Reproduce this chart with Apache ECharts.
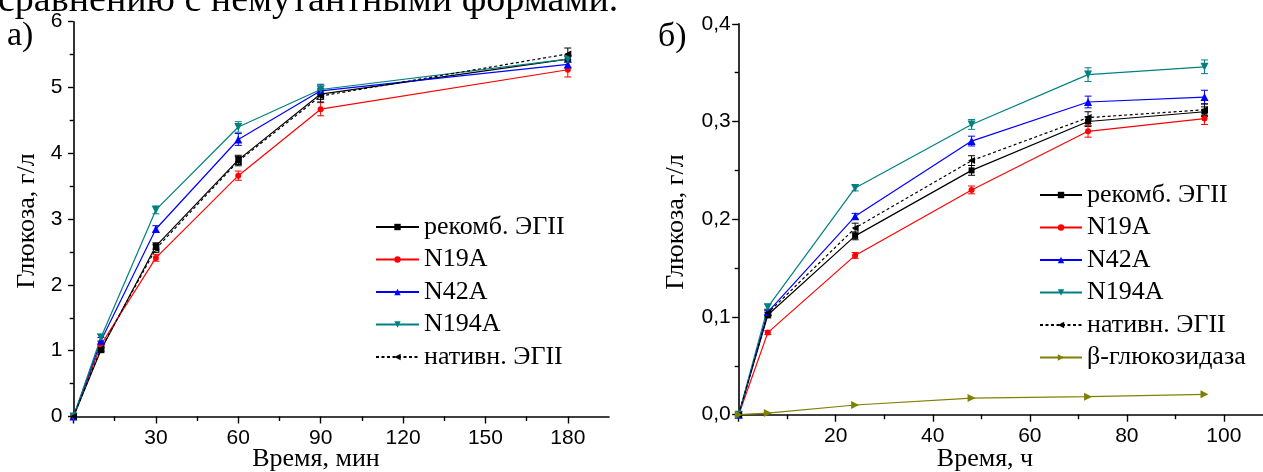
<!DOCTYPE html>
<html>
<head>
<meta charset="utf-8">
<script src="https://cdn.jsdelivr.net/npm/echarts@6/dist/echarts.min.js"></script>
<style>
html,body{margin:0;padding:0;background:#fff;}
#c{width:1263px;height:472px;}
</style>
</head>
<body>
<div id="c"></div>
<script>
// ---------- DATA ----------
// Panel a) time, min
const timeMin = [0, 10, 30, 60, 90, 180];
const recombA = [0, 1.01, 2.59, 3.90, 4.90, 5.43];
const n19aA   = [0, 1.09, 2.41, 3.66, 4.67, 5.27];
const n42aA   = [0, 1.15, 2.85, 4.21, 4.95, 5.35];
const n194aA  = [0, 1.20, 3.14, 4.40, 4.97, 5.43];
const nativeA = [0, 1.03, 2.55, 3.88, 4.87, 5.51];
const recombErrA = [0, 0.04, 0.05, 0.07, 0.08, 0.05];
const n19aErrA   = [0, 0.05, 0.05, 0.07, 0.10, 0.11];
const n42aErrA   = [0, 0.05, 0.05, 0.09, 0.09, 0.05];
const n194aErrA  = [0, 0.05, 0.06, 0.08, 0.08, 0.05];
const nativeErrA = [0, 0.04, 0.06, 0.07, 0.09, 0.09];

// Panel б) time, h
const timeH = [0, 6, 24, 48, 72, 96];
const recombB = [0, 0.102, 0.183, 0.250, 0.300, 0.310];
const n19aB   = [0, 0.084, 0.163, 0.230, 0.290, 0.303];
const n42aB   = [0, 0.105, 0.203, 0.280, 0.320, 0.325];
const n194aB  = [0, 0.110, 0.232, 0.297, 0.348, 0.356];
const nativeB = [0, 0.104, 0.191, 0.260, 0.304, 0.312];
const betaB   = [0, 0.0017, 0.0099, 0.017, 0.0184, 0.0208];
const recombErrB = [0, 0.003, 0.004, 0.005, 0.005, 0.005];
const n19aErrB   = [0, 0.002, 0.003, 0.004, 0.006, 0.006];
const n42aErrB   = [0, 0.003, 0.003, 0.005, 0.006, 0.007];
const n194aErrB  = [0, 0.003, 0.003, 0.005, 0.007, 0.007];
const nativeErrB = [0, 0.003, 0.005, 0.005, 0.006, 0.006];

// Tick labels
const xLabelsA = [30, 60, 90, 120, 150, 180];
const xMajorA  = [0, 30, 60, 90, 120, 150, 180];
const xMinorA  = [15, 45, 75, 105, 135, 165];
const xLabelsB = [20, 40, 60, 80, 100];
const xMajorB  = [0, 20, 40, 60, 80, 100];
const xMinorB  = [10, 30, 50, 70, 90];

const names = ['рекомб. ЭГII', 'N19A', 'N42A', 'N194A', 'нативн. ЭГII', 'β-глюкозидаза'];
const colors = ['#000000', '#ff0000', '#0000ff', '#008080', '#000000', '#808000'];

// ---------- STYLE ----------
const SERIF = 'Liberation Serif';
const SANS = 'Liberation Sans';
const symbolDefs = [
  {symbol: 'rect', size: 6, rot: 0},
  {symbol: 'circle', size: 6, rot: 0},
  {symbol: 'triangle', size: 8, rot: 0},
  {symbol: 'triangle', size: 8, rot: 180},
  {symbol: 'triangle', size: 7, rot: 90},
  {symbol: 'triangle', size: 8, rot: -90}
];

function lineSeries(idx, xs, ys, gi) {
  const s = symbolDefs[idx];
  return {
    type: 'line', name: names[idx], xAxisIndex: gi * 2, yAxisIndex: gi,
    data: xs.map((t, i) => [t, ys[i]]),
    symbol: s.symbol, symbolSize: s.size, symbolRotate: s.rot,
    showAllSymbol: true,
    color: colors[idx],
    itemStyle: {color: colors[idx]},
    lineStyle: {color: colors[idx], width: 1.2, type: idx === 4 ? [3, 2.5] : 'solid'},
    z: 3, clip: false
  };
}
function errSeries(idx, xs, ys, es, gi) {
  const col = colors[idx];
  return {
    type: 'custom', name: 'err' + idx + '_' + gi, xAxisIndex: gi * 2, yAxisIndex: gi,
    data: xs.map((t, i) => [t, ys[i], es[i]]).filter(d => d[2] > 0),
    z: 2,
    renderItem: function (params, api) {
      const x = api.value(0), y = api.value(1), e = api.value(2);
      const lo = api.coord([x, y - e]), hi = api.coord([x, y + e]);
      const w = 3.5;
      const st = {stroke: col, lineWidth: 1};
      return {type: 'group', children: [
        {type: 'line', shape: {x1: lo[0], y1: lo[1], x2: hi[0], y2: hi[1]}, style: st},
        {type: 'line', shape: {x1: lo[0] - w, y1: lo[1], x2: lo[0] + w, y2: lo[1]}, style: st},
        {type: 'line', shape: {x1: hi[0] - w, y1: hi[1], x2: hi[0] + w, y2: hi[1]}, style: st}
      ]};
    }
  };
}

function xAxisPair(gi, max, labels, majors, minors) {
  const base = {
    gridIndex: gi, type: 'value', min: 0, max: max, position: 'bottom',
    splitLine: {show: false}
  };
  return [
    Object.assign({}, base, {
      axisLine: {show: true, onZero: false, lineStyle: {color: '#000', width: 1.6}},
      axisTick: {show: true, inside: false, length: 7, customValues: majors, lineStyle: {color: '#000', width: 1.4}},
      axisLabel: {show: true, customValues: labels, margin: 11, color: '#000', fontFamily: SANS, fontSize: 21}
    }),
    Object.assign({}, base, {
      axisLine: {show: false},
      axisTick: {show: true, inside: false, length: 4.5, customValues: minors, lineStyle: {color: '#000', width: 1.4}},
      axisLabel: {show: false}
    })
  ];
}

const series = [];
const setsA = [recombA, n19aA, n42aA, n194aA, nativeA];
const errsA = [recombErrA, n19aErrA, n42aErrA, n194aErrA, nativeErrA];
const setsB = [recombB, n19aB, n42aB, n194aB, nativeB, betaB];
const errsB = [recombErrB, n19aErrB, n42aErrB, n194aErrB, nativeErrB];
errsA.forEach((e, i) => series.push(errSeries(i, timeMin, setsA[i], e, 0)));
errsB.forEach((e, i) => series.push(errSeries(i, timeH, setsB[i], e, 1)));
setsA.forEach((d, i) => series.push(lineSeries(i, timeMin, d, 0)));
setsB.forEach((d, i) => series.push(lineSeries(i, timeH, d, 1)));
const legendText = {color: '#000', fontFamily: SERIF, fontSize: 26, lineHeight: 26};

function gtext(text, x, y, size, rot, align) {
  return {
    type: 'text', x: x, y: y, rotation: rot || 0, silent: true,
    style: {text: text, font: size + 'px "' + SERIF + '"', fill: '#000',
      align: align || 'center', verticalAlign: 'middle',
      textAlign: align || 'center', textVerticalAlign: 'middle'}
  };
}

const option = {
  animation: false,
  backgroundColor: '#fff',
  grid: [
    {left: 73.5, top: 21.7, width: 535.5, height: 394.8, outerBoundsMode: 'none', containLabel: false},
    {left: 738.7, top: 23.8, width: 524, height: 390.9, outerBoundsMode: 'none', containLabel: false}
  ],
  xAxis: [].concat(
    xAxisPair(0, 195, xLabelsA, xMajorA, xMinorA),
    xAxisPair(1, 108, xLabelsB, xMajorB, xMinorB)
  ),
  yAxis: [
    {gridIndex: 0, type: 'value', min: 0, max: 6, interval: 1,
      axisLine: {show: true, onZero: false, lineStyle: {color: '#000', width: 1.6}},
      axisTick: {show: true, inside: false, length: 5.5, lineStyle: {color: '#000', width: 1.4}},
      minorTick: {show: true, splitNumber: 2, length: 3.8, lineStyle: {color: '#000', width: 1.4}},
      axisLabel: {margin: 11, color: '#000', fontFamily: SANS, fontSize: 21},
      splitLine: {show: false}},
    {gridIndex: 1, type: 'value', min: 0, max: 0.4, interval: 0.1,
      axisLine: {show: true, onZero: false, lineStyle: {color: '#000', width: 1.6}},
      axisTick: {show: true, inside: false, length: 6.5, lineStyle: {color: '#000', width: 1.4}},
      minorTick: {show: true, splitNumber: 2, length: 4, lineStyle: {color: '#000', width: 1.4}},
      axisLabel: {margin: 8, color: '#000', fontFamily: SANS, fontSize: 21,
        formatter: v => v.toFixed(1).replace('.', ',')},
      splitLine: {show: false}}
  ],
  legend: [
    {orient: 'vertical', left: 375, top: 214, itemGap: 6.5, itemWidth: 43, itemHeight: 8,
      data: names.slice(0, 5), textStyle: legendText, selectedMode: false, padding: 0},
    {orient: 'vertical', left: 1039, top: 182, itemGap: 6.5, itemWidth: 42, itemHeight: 8,
      data: names.slice(0, 6), textStyle: legendText, selectedMode: false, padding: 0}
  ],
  graphic: [
    gtext('сравнению с немутантными формами.', -2, 1, 38, 0, 'left'),
    gtext('а)', 7, 36, 34, 0, 'left'),
    gtext('б)', 658, 37, 34, 0, 'left'),
    gtext('Глюкоза, г/л', 27, 221, 26, Math.PI / 2),
    gtext('Глюкоза, г/л', 676, 222, 26, Math.PI / 2),
    gtext('Время, мин', 316, 459, 26),
    gtext('Время, ч', 985, 459, 26)
  ],
  series: series
};

const chart = echarts.init(document.getElementById('c'), null, {renderer: 'canvas'});
chart.setOption(option);
</script>
</body>
</html>
